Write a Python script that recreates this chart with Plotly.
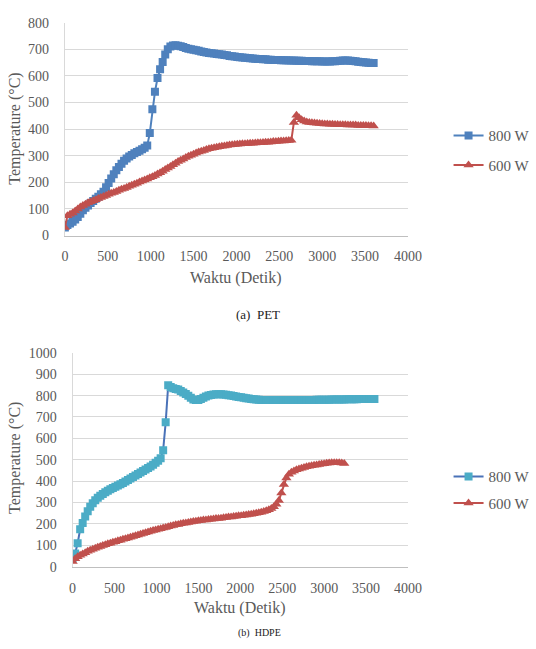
import plotly.graph_objects as go

# ---------------- data ----------------
STEP = 30  # sampling interval (s)

pet_800w = [30, 40, 45, 52, 60, 70, 82, 95, 105, 113, 122, 130, 138, 146, 155, 165, 182, 198, 214, 230,
            245, 258, 270, 281, 290, 297, 303, 309, 314, 319, 324, 330, 338, 385, 475, 540, 592, 625, 652, 680,
            700, 710, 714, 715, 713, 711, 708, 705, 702, 700, 698, 696, 694, 692, 690, 688, 686, 685, 684, 682,
            681, 680, 678, 677, 675, 674, 673, 671, 670, 669, 668, 667, 666, 665, 664, 663, 663, 662, 662, 661,
            661, 660, 660, 660, 659, 659, 659, 658, 658, 658, 657, 657, 657, 656, 656, 656, 655, 655, 655, 655,
            654, 654, 654, 654, 655, 655, 656, 657, 658, 658, 658, 657, 656, 655, 653, 652, 651, 650, 649, 648,
            648]
pet_600w = [30, 75, 80, 85, 92, 100, 107, 113, 118, 123, 127, 131, 135, 139, 143, 147, 151, 155, 159, 162,
            166, 170, 174, 177, 181, 185, 189, 193, 197, 201, 205, 209, 213, 217, 221, 226, 231, 236, 242, 248,
            254, 260, 266, 272, 278, 283, 288, 293, 298, 302, 306, 310, 314, 317, 320, 323, 326, 328, 330, 332,
            334, 336, 337, 338, 340, 341, 342, 343, 344, 345, 345, 346, 347, 347, 348, 349, 349, 350, 351, 351,
            352, 353, 353, 354, 355, 355, 356, 357, 358, 425, 452, 443, 435, 430, 427, 425, 424, 423, 422, 421,
            420, 419, 419, 418, 418, 417, 417, 416, 416, 416, 415, 415, 415, 415, 414, 414, 414, 414, 413, 413,
            412]

b_800w = [40, 62, 110, 175, 205, 235, 260, 280, 297, 311, 322, 332, 340, 348, 355, 362, 368, 374, 380, 386,
          392, 399, 406, 413, 420, 427, 434, 441, 448, 455, 462, 469, 477, 486, 495, 507, 545, 675, 848, 840,
          834, 831, 828, 822, 815, 808, 799, 790, 782, 779, 780, 784, 790, 796, 800, 803, 805, 806, 806, 806,
          805, 804, 802, 800, 798, 796, 794, 792, 790, 788, 786, 784, 783, 782, 781, 780, 779, 779, 779, 779,
          779, 779, 779, 779, 779, 779, 780, 780, 780, 780, 780, 780, 780, 780, 780, 780, 780, 781, 781, 781,
          781, 781, 781, 782, 782, 782, 782, 782, 782, 783, 783, 783, 783, 783, 784, 784, 784, 784, 784, 784,
          784]
b_600w = [25, 38, 47, 54, 60, 66, 72, 77, 82, 86, 91, 95, 99, 103, 107, 110, 114, 117, 121, 124,
          128, 131, 135, 138, 142, 145, 149, 152, 156, 159, 163, 166, 169, 172, 175, 178, 181, 184, 187, 190,
          193, 196, 198, 201, 203, 205, 207, 209, 211, 213, 215, 216, 218, 219, 221, 222, 223, 225, 226, 227,
          229, 230, 232, 233, 235, 236, 238, 239, 241, 242, 244, 246, 248, 250, 252, 255, 258, 262, 266, 272,
          280, 292, 310, 345, 385, 415, 432, 442, 448, 453, 457, 461, 464, 467, 470, 472, 474, 476, 478, 480,
          482, 484, 485, 486, 486, 486, 486, 485, 483]

def times(vals):
    return list(range(0, STEP * len(vals), STEP))

x_ticks = [0, 500, 1000, 1500, 2000, 2500, 3000, 3500, 4000]
top_y_ticks = [0, 100, 200, 300, 400, 500, 600, 700, 800]
bot_y_ticks = [0, 100, 200, 300, 400, 500, 600, 700, 800, 900, 1000]

# ---------------- styles ----------------
W, H = 536, 649
FONT = "Liberation Serif"
GREY = "#595959"
BLUE = "#4F81BD"
RED = "#C0504D"
TEAL = "#4BACC6"
BLUE_LINE2 = "#4A72B8"

def px(x):
    return x / W

def py(y):
    return 1 - y / H

fig = go.Figure()

def add(x, y, name, xa, ya, lcol, mcol, sym, msize, legend):
    fig.add_trace(go.Scatter(
        x=x, y=y, name=name, mode="lines+markers", xaxis=xa, yaxis=ya,
        line=dict(color=lcol, width=2),
        marker=dict(symbol=sym, color=mcol, size=msize, line=dict(width=0)),
        legend=legend, legendgroup=legend + name,
    ))

add(times(pet_800w), pet_800w, "800 W", "x", "y", BLUE, BLUE, "square", 8, "legend")
add(times(pet_600w), pet_600w, "600 W", "x", "y", RED, RED, "triangle-up", 9, "legend")
add(times(b_800w), b_800w, "800 W", "x2", "y2", BLUE_LINE2, TEAL, "square", 8, "legend2")
add(times(b_600w), b_600w, "600 W", "x2", "y2", RED, RED, "triangle-up", 9, "legend2")

tickfont = dict(family=FONT, size=14, color=GREY)

def xaxis(dom, anchor):
    return dict(domain=dom, anchor=anchor, range=[0, 4000], tickvals=x_ticks,
                showgrid=False, zeroline=False, showline=True, linecolor="#BFBFBF", linewidth=1,
                ticks="", tickfont=tickfont, ticklabelstandoff=8, fixedrange=True)

def yaxis(dom, anchor, top, ticks):
    return dict(domain=dom, anchor=anchor, range=[0, top], tickvals=ticks,
                showgrid=True, gridcolor="#D9D9D9", gridwidth=1, zeroline=False,
                showline=True, linecolor="#D9D9D9", linewidth=1,
                ticks="", tickfont=tickfont, ticklabelstandoff=12, fixedrange=True)

legfont = dict(family=FONT, size=15, color=GREY)

fig.update_layout(
    width=W, height=H, margin=dict(l=0, r=0, t=0, b=0),
    paper_bgcolor="white", plot_bgcolor="white",
    xaxis=xaxis([px(63), px(418)], "y"),
    yaxis=yaxis([py(234), py(16)], "x", 800, top_y_ticks),
    xaxis2=xaxis([px(71), px(418)], "y2"),
    yaxis2=yaxis([py(573), py(354)], "x2", 1000, bot_y_ticks),
    legend=dict(x=px(460), y=py(115), xanchor="left", yanchor="top", font=legfont,
                bgcolor="rgba(0,0,0,0)", traceorder="grouped", tracegroupgap=7, itemwidth=30),
    legend2=dict(x=px(460), y=py(464), xanchor="left", yanchor="top", font=legfont,
                 bgcolor="rgba(0,0,0,0)", traceorder="grouped", tracegroupgap=4, itemwidth=30),
    showlegend=True,
)

titlefont = dict(family=FONT, size=16, color=GREY)
ann = [
    dict(text="Temperature (°C)", x=px(12), y=py(125), textangle=-90, font=titlefont),
    dict(text="Waktu (Detik)", x=px(240), y=py(277), font=titlefont),
    dict(text="Temperature (°C)", x=px(12), y=py(462), textangle=-90, font=titlefont),
    dict(text="Waktu (Detik)", x=px(244), y=py(615), font=titlefont),
    dict(text="(a)  PET", x=px(263), y=py(315), font=dict(family=FONT, size=13, color="#222222")),
]
for a in ann:
    fig.add_annotation(xref="paper", yref="paper", showarrow=False, xanchor="center", yanchor="middle", **a)
fig.add_annotation(text="(b)  HDPE", xref="paper", yref="paper", x=px(264), y=0,
                   xanchor="center", yanchor="bottom", showarrow=False,
                   font=dict(family=FONT, size=10, color="#222222"))

fig.write_html("out.html")
